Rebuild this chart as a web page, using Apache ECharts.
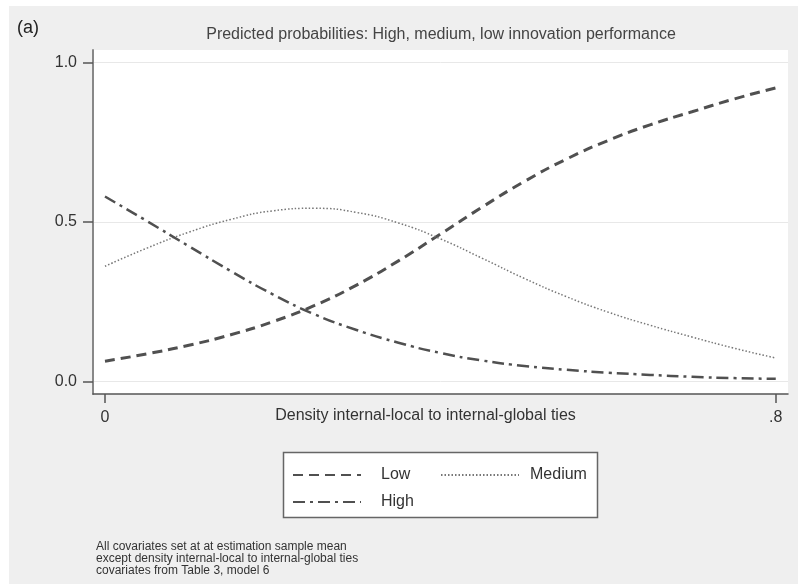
<!DOCTYPE html>
<html><head><meta charset="utf-8">
<script src="https://cdn.jsdelivr.net/npm/echarts@6/dist/echarts.min.js"></script>
<style>
html,body{margin:0;padding:0;background:#fff;}
#bg{position:absolute;left:9px;top:6px;width:789px;height:578px;background:#efefef;}
#chart{position:absolute;left:0;top:0;width:798px;height:585px;}
</style></head><body>
<div id="bg"></div><div id="chart"></div>
<script>
const xValues = [0, 0.05, 0.1, 0.15, 0.2, 0.25, 0.3, 0.35, 0.4, 0.45, 0.5, 0.55, 0.6, 0.65, 0.7, 0.75, 0.8];
const lowValues = [0.063, 0.086, 0.113, 0.146, 0.187, 0.238, 0.302, 0.378, 0.462, 0.547, 0.627, 0.697, 0.756, 0.805, 0.846, 0.886, 0.921];
const mediumValues = [0.361, 0.418, 0.468, 0.508, 0.535, 0.543, 0.530, 0.497, 0.447, 0.386, 0.323, 0.266, 0.217, 0.176, 0.139, 0.104, 0.073];
const highValues = [0.580, 0.503, 0.424, 0.346, 0.273, 0.210, 0.161, 0.121, 0.089, 0.065, 0.048, 0.036, 0.027, 0.020, 0.014, 0.010, 0.0075];
const xTickValues = [0, 0.8];
const yTickValues = [0, 0.5, 1];
const titleText = 'Predicted probabilities: High, medium, low innovation performance';
const panelLabel = '(a)';
const xAxisTitle = 'Density internal-local to internal-global ties';
const noteLines = ['All covariates set at at estimation sample mean', 'except density internal-local to internal-global ties', 'covariates from Table 3, model 6'];

const FONT = 'Liberation Sans, Arial, sans-serif';
const pairs = (ys) => xValues.map((x, i) => [x, ys[i]]);

const chart = echarts.init(document.getElementById('chart'), null, {renderer: 'canvas'});
chart.setOption({
  backgroundColor: 'transparent',
  animation: false,
  title: [
    {text: titleText, left: 436, top: 22, textAlign: 'center',
     textStyle: {fontFamily: FONT, fontSize: 16, fontWeight: 'normal', color: '#444'}},
    {text: panelLabel, left: 12, top: 14,
     textStyle: {fontFamily: FONT, fontSize: 18, fontWeight: 'normal', color: '#222'}}
  ],
  grid: {left: 93, right: 10, top: 50, bottom: 191, show: true, backgroundColor: '#fff', borderWidth: 0},
  xAxis: {
    type: 'value', min: -0.0143, max: 0.8146,
    name: xAxisTitle, nameLocation: 'middle', nameGap: 14, nameMoveOverlap: false,
    nameTextStyle: {fontFamily: FONT, fontSize: 16, color: '#333', padding: [0, 30, 0, 0], verticalAlign: 'top'},
    axisLine: {show: true, onZero: false, lineStyle: {color: '#555', width: 1.5}},
    axisTick: {show: true, length: 9, customValues: xTickValues, lineStyle: {color: '#555', width: 1.5}},
    axisLabel: {customValues: xTickValues, margin: 16, fontFamily: FONT, fontSize: 16, color: '#333',
      formatter: v => v === 0 ? '0' : String(v).replace(/^0/, '')},
    splitLine: {show: false}
  },
  yAxis: {
    type: 'value', min: -0.04, max: 1.04,
    axisLine: {show: true, onZero: false, lineStyle: {color: '#888', width: 2}},
    axisTick: {show: true, length: 10, customValues: yTickValues, lineStyle: {color: '#555', width: 1.5}},
    axisLabel: {customValues: yTickValues, margin: 16, fontFamily: FONT, fontSize: 16, color: '#333',
      formatter: v => v.toFixed(1)},
    splitLine: {show: true, lineStyle: {color: '#e8e8e8', width: 1}}
  },
  legend: [
    {data: ['Low', 'High'], orient: 'vertical', left: 287, top: 462, itemWidth: 68, itemHeight: 14, itemGap: 11, z: 10,
     itemStyle: {opacity: 0},
     textStyle: {fontFamily: FONT, fontSize: 16, color: '#333', padding: [0, 0, 0, 15]}},
    {data: ['Medium'], orient: 'vertical', left: 435, top: 462, itemWidth: 78, itemHeight: 14, itemGap: 11, z: 10,
     itemStyle: {opacity: 0},
     textStyle: {fontFamily: FONT, fontSize: 16, color: '#333', padding: [0, 0, 0, 6]}}
  ],
  graphic: [
    {type: 'rect', z: 1, shape: {x: 283.5, y: 452.5, width: 314, height: 65},
     style: {fill: '#fff', stroke: '#666', lineWidth: 1.5}},
    {type: 'text', left: 96, top: 541, z: 1,
     style: {text: noteLines.join('\n'), font: '12px ' + FONT, fill: '#333', lineHeight: 12}}
  ],
  series: [
    {name: 'Low', type: 'line', data: pairs(lowValues), smooth: true, symbol: 'none',
     lineStyle: {color: '#505050', width: 3, type: [10, 6]}, itemStyle: {color: '#505050'}},
    {name: 'Medium', type: 'line', data: pairs(mediumValues), smooth: true, symbol: 'none',
     lineStyle: {color: '#777', width: 1.5, type: [1.5, 2]}, itemStyle: {color: '#777'}},
    {name: 'High', type: 'line', data: pairs(highValues), smooth: true, symbol: 'none',
     lineStyle: {color: '#505050', width: 2.5, type: [12, 5, 3, 5]}, itemStyle: {color: '#505050'}}
  ]
});
</script>
</body></html>
